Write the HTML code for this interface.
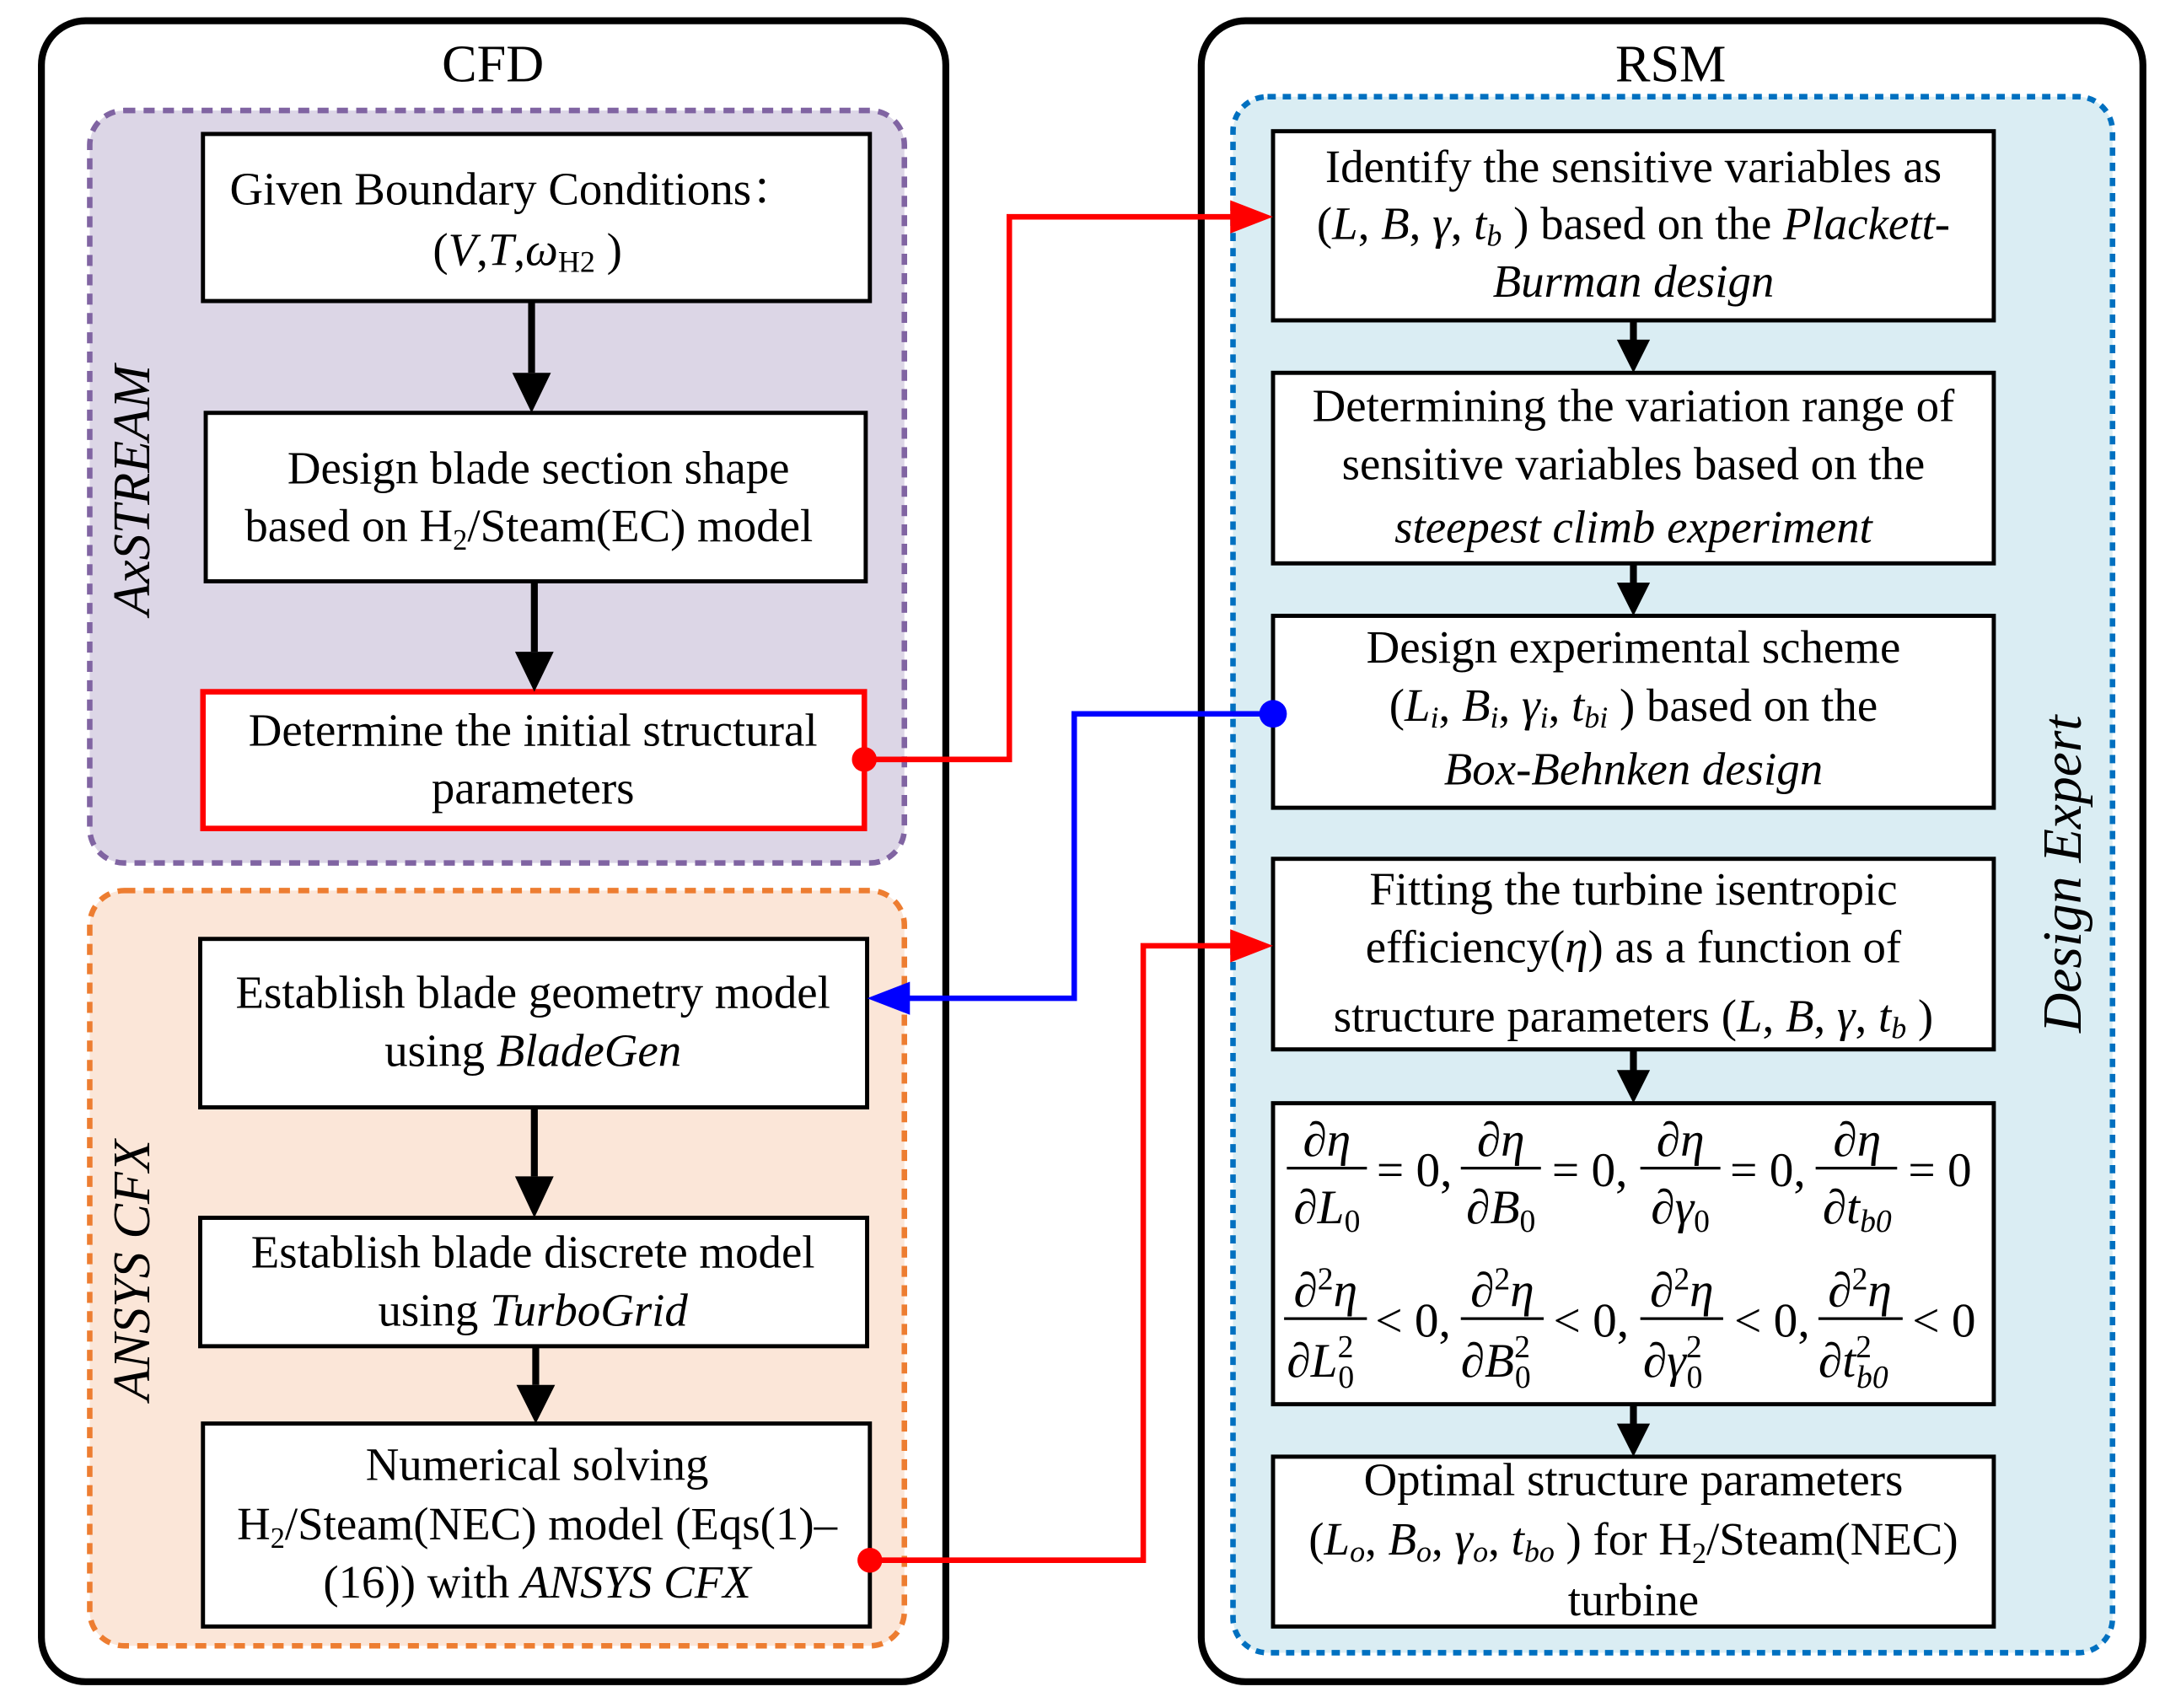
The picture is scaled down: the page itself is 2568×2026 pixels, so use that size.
<!DOCTYPE html>
<html><head><meta charset="utf-8"><style>
html,body{margin:0;padding:0;background:#fff;}
svg{display:block;}
text{font-family:"Liberation Serif","Noto Serif CJK SC",serif;fill:#000;}
.t{font-size:33.5px;text-anchor:middle;}
.i{font-style:italic;}
</style></head><body>
<svg width="2568" height="2026" viewBox="0 0 1568 1237" xmlns="http://www.w3.org/2000/svg">
<!-- outer boxes -->
<rect x="30" y="15" width="655" height="1203" rx="32" fill="#fff" stroke="#000" stroke-width="5"/>
<rect x="870" y="15" width="682" height="1203" rx="32" fill="#fff" stroke="#000" stroke-width="5"/>
<text x="357" y="59" class="t" style="font-size:38px">CFD</text>
<text x="1210" y="59" class="t" style="font-size:38px">RSM</text>
<!-- regions -->
<rect x="65" y="80" width="590" height="545" rx="25" fill="#dcd6e6" stroke="#8064a2" stroke-width="4" stroke-dasharray="8 6"/>
<rect x="65" y="645" width="590" height="547" rx="25" fill="#fbe6d8" stroke="#ed7d31" stroke-width="4" stroke-dasharray="8 6"/>
<rect x="893" y="70" width="637" height="1127" rx="25" fill="#daedf3" stroke="#0070c0" stroke-width="4" stroke-dasharray="6 5"/>
<text transform="translate(108,355) rotate(-90)" class="t i" style="font-size:38px">AxSTREAM</text>
<text transform="translate(108,920) rotate(-90)" class="t i" style="font-size:38px">ANSYS CFX</text>
<text transform="translate(1507,633) rotate(-90)" class="t i" style="font-size:40px">Design Expert</text>
<!-- left boxes -->
<g fill="#fff" stroke="#000" stroke-width="3">
<rect x="147" y="97" width="483" height="121"/>
<rect x="149" y="299" width="478" height="122"/>
<rect x="145" y="680" width="483" height="122"/>
<rect x="145" y="882" width="483" height="93"/>
<rect x="147" y="1031" width="483" height="147"/>
</g>
<rect x="147" y="501" width="479" height="99" fill="#fff" stroke="#f00" stroke-width="4"/>
<text x="372" y="148" class="t">Given Boundary Conditions：</text>
<text x="382" y="192" class="t">(<tspan class="i">V</tspan>,<tspan class="i">T</tspan>,<tspan class="i">ω</tspan><tspan style="font-size:22px" dy="5">H2</tspan><tspan dy="-5"> )</tspan></text>
<text x="390" y="350" class="t">Design blade section shape</text>
<text x="383" y="392" class="t">based on H<tspan style="font-size:21px" dy="6">2</tspan><tspan dy="-6">/Steam(EC) model</tspan></text>
<text x="386" y="540" class="t">Determine the initial structural</text>
<text x="386" y="582" class="t">parameters</text>
<text x="386" y="730" class="t">Establish blade geometry model</text>
<text x="386" y="772" class="t">using <tspan class="i">BladeGen</tspan></text>
<text x="386" y="918" class="t">Establish blade discrete model</text>
<text x="386" y="960" class="t">using <tspan class="i">TurboGrid</tspan></text>
<text x="389" y="1072" class="t">Numerical solving</text>
<text x="389" y="1115" class="t">H<tspan style="font-size:21px" dy="6">2</tspan><tspan dy="-6">/Steam(NEC) model (Eqs(1)–</tspan></text>
<text x="389" y="1157" class="t">(16)) with <tspan class="i">ANSYS CFX</tspan></text>
<!-- right boxes -->
<g fill="#fff" stroke="#000" stroke-width="3">
<rect x="922" y="95" width="522" height="137"/>
<rect x="922" y="270" width="522" height="138"/>
<rect x="922" y="446" width="522" height="139"/>
<rect x="922" y="622" width="522" height="138"/>
<rect x="922" y="799" width="522" height="218"/>
<rect x="922" y="1055" width="522" height="123"/>
</g>
<text x="1183" y="132" class="t">Identify the sensitive variables as</text>
<text x="1183" y="173" class="t">(<tspan class="i">L</tspan>, <tspan class="i">B</tspan>, <tspan class="i">γ</tspan>, <tspan class="i">t<tspan style="font-size:22px" dy="5">b</tspan></tspan><tspan dy="-5"> ) based on the </tspan><tspan class="i">Plackett-</tspan></text>
<text x="1183" y="215" class="t i">Burman design</text>
<text x="1183" y="305" class="t">Determining the variation range of</text>
<text x="1183" y="347" class="t">sensitive variables based on the</text>
<text x="1183" y="393" class="t i">steepest climb experiment</text>
<text x="1183" y="480" class="t">Design experimental scheme</text>
<text x="1183" y="522" class="t">(<tspan class="i">L<tspan style="font-size:22px" dy="5">i</tspan></tspan><tspan dy="-5">, </tspan><tspan class="i">B<tspan style="font-size:22px" dy="5">i</tspan></tspan><tspan dy="-5">, </tspan><tspan class="i">γ<tspan style="font-size:22px" dy="5">i</tspan></tspan><tspan dy="-5">, </tspan><tspan class="i">t<tspan style="font-size:22px" dy="5">bi</tspan></tspan><tspan dy="-5"> ) based on the</tspan></text>
<text x="1183" y="568" class="t i">Box-Behnken design</text>
<text x="1183" y="655" class="t">Fitting the turbine isentropic</text>
<text x="1183" y="697" class="t">efficiency(<tspan class="i">η</tspan>) as a function of</text>
<text x="1183" y="747" class="t">structure parameters (<tspan class="i">L</tspan>, <tspan class="i">B</tspan>, <tspan class="i">γ</tspan>, <tspan class="i">t<tspan style="font-size:22px" dy="5">b</tspan></tspan><tspan dy="-5"> )</tspan></text>
<text x="1183" y="1083" class="t">Optimal structure parameters</text>
<text x="1183" y="1126" class="t">(<tspan class="i">L<tspan style="font-size:22px" dy="5">o</tspan></tspan><tspan dy="-5">, </tspan><tspan class="i">B<tspan style="font-size:22px" dy="5">o</tspan></tspan><tspan dy="-5">, </tspan><tspan class="i">γ<tspan style="font-size:22px" dy="5">o</tspan></tspan><tspan dy="-5">, </tspan><tspan class="i">t<tspan style="font-size:22px" dy="5">bo</tspan></tspan><tspan dy="-5"> ) for H</tspan><tspan style="font-size:21px" dy="6">2</tspan><tspan dy="-6">/Steam(NEC)</tspan></text>
<text x="1183" y="1170" class="t">turbine</text>
<!-- equations -->
<g style="font-size:35px">
<g stroke="#000" stroke-width="2">
<line x1="932" y1="846" x2="990" y2="846"/><line x1="1058" y1="846" x2="1116" y2="846"/><line x1="1188" y1="846" x2="1246" y2="846"/><line x1="1315" y1="846" x2="1374" y2="846"/>
<line x1="930" y1="955" x2="990" y2="955"/><line x1="1058" y1="955" x2="1118" y2="955"/><line x1="1188" y1="955" x2="1248" y2="955"/><line x1="1317" y1="955" x2="1378" y2="955"/>
</g>
<text class="t i" style="font-size:35px" x="961" y="837">∂η</text><text class="t i" style="font-size:35px" x="1087" y="837">∂η</text><text class="t i" style="font-size:35px" x="1217" y="837">∂η</text><text class="t i" style="font-size:35px" x="1345" y="837">∂η</text>
<text class="t i" style="font-size:35px" x="961" y="886">∂L<tspan style="font-size:23px;font-style:normal" dy="6">0</tspan></text>
<text class="t i" style="font-size:35px" x="1087" y="886">∂B<tspan style="font-size:23px;font-style:normal" dy="6">0</tspan></text>
<text class="t i" style="font-size:35px" x="1217" y="886">∂γ<tspan style="font-size:23px;font-style:normal" dy="6">0</tspan></text>
<text class="t i" style="font-size:35px" x="1345" y="886">∂t<tspan style="font-size:23px" dy="6">b0</tspan></text>
<text x="997" y="859">= 0,</text><text x="1124" y="859">= 0,</text><text x="1253" y="859">= 0,</text><text x="1382" y="859">= 0</text>
<text class="t i" style="font-size:35px" x="960" y="946">∂<tspan style="font-size:23px;font-style:normal" dy="-12">2</tspan><tspan dy="12">η</tspan></text>
<text class="t i" style="font-size:35px" x="1088" y="946">∂<tspan style="font-size:23px;font-style:normal" dy="-12">2</tspan><tspan dy="12">η</tspan></text>
<text class="t i" style="font-size:35px" x="1218" y="946">∂<tspan style="font-size:23px;font-style:normal" dy="-12">2</tspan><tspan dy="12">η</tspan></text>
<text class="t i" style="font-size:35px" x="1347" y="946">∂<tspan style="font-size:23px;font-style:normal" dy="-12">2</tspan><tspan dy="12">η</tspan></text>
<text class="i" x="932" y="997">∂L<tspan style="font-size:23px;font-style:normal" dy="-14">2</tspan><tspan style="font-size:23px;font-style:normal" dx="-11" dy="22">0</tspan></text>
<text class="i" x="1058" y="997">∂B<tspan style="font-size:23px;font-style:normal" dy="-14">2</tspan><tspan style="font-size:23px;font-style:normal" dx="-11" dy="22">0</tspan></text>
<text class="i" x="1190" y="997">∂γ<tspan style="font-size:23px;font-style:normal" dy="-14">2</tspan><tspan style="font-size:23px;font-style:normal" dx="-11" dy="22">0</tspan></text>
<text class="i" x="1317" y="997">∂t<tspan style="font-size:23px;font-style:normal" dy="-14">2</tspan><tspan style="font-size:23px" dx="-11" dy="22">b0</tspan></text>
<text x="996" y="968">&lt; 0,</text><text x="1125" y="968">&lt; 0,</text><text x="1256" y="968">&lt; 0,</text><text x="1385" y="968">&lt; 0</text>
</g>
<!-- black arrows -->
<g stroke="#000" stroke-width="5" fill="none">
<line x1="385" y1="218" x2="385" y2="270"/><line x1="387" y1="421" x2="387" y2="472"/>
<line x1="387" y1="802" x2="387" y2="852"/><line x1="388" y1="975" x2="388" y2="1003"/>
<line x1="1183" y1="232" x2="1183" y2="248"/><line x1="1183" y1="408" x2="1183" y2="424"/>
<line x1="1183" y1="760" x2="1183" y2="776"/><line x1="1183" y1="1017" x2="1183" y2="1033"/>
</g>
<g fill="#000">
<path d="M371,270 L399,270 L385,299z"/><path d="M373,472 L401,472 L387,501z"/>
<path d="M373,852 L401,852 L387,882z"/><path d="M374,1003 L402,1003 L388,1031z"/>
<path d="M1171,246 L1195,246 L1183,270z"/><path d="M1171,422 L1195,422 L1183,446z"/>
<path d="M1171,775 L1195,775 L1183,799z"/><path d="M1171,1031 L1195,1031 L1183,1055z"/>
</g>
<!-- connectors -->
<polyline points="626,550 731,550 731,157 892,157" fill="none" stroke="#f00" stroke-width="4"/>
<path d="M891,145 L922,157 L891,169z" fill="#f00"/>
<circle cx="626" cy="550" r="9" fill="#f00"/>
<polyline points="630,1130 828,1130 828,685 892,685" fill="none" stroke="#f00" stroke-width="4"/>
<path d="M891,673 L922,685 L891,697z" fill="#f00"/>
<circle cx="630" cy="1130" r="9" fill="#f00"/>
<polyline points="922,517 778,517 778,723 656,723" fill="none" stroke="#00f" stroke-width="4"/>
<path d="M659,711 L628,723 L659,735z" fill="#00f"/>
<circle cx="922" cy="517" r="10" fill="#00f"/>
</svg>
</body></html>
